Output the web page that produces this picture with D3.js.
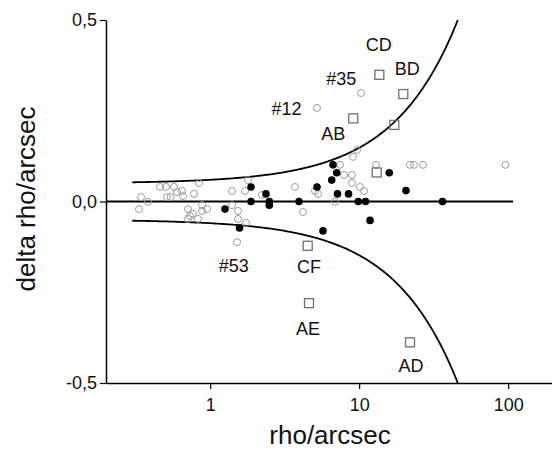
<!DOCTYPE html>
<html>
<head>
<meta charset="utf-8">
<script src="https://cdn.jsdelivr.net/npm/d3@7"></script>
<style>
  html, body { margin: 0; padding: 0; background: #fff; }
  svg { display: block; font-family: "Liberation Sans", Arial, sans-serif; }
</style>
</head>
<body>
<svg id="chart" width="552" height="456"></svg>
<script>
// ---- data (rho in arcsec, delta rho in arcsec) ----
const openRho   = [0.333,0.344,0.383,0.461,0.505,0.572,0.513,0.542,0.599,0.647,0.657,0.779,0.842,0.710,0.733,0.767,0.710,0.829,0.882,0.882,0.953,1.402,1.402,1.538,1.538,1.515,1.740,1.714,1.795,2.228,3.711,4.200,5.054,5.296,6.887,7.440,7.912,8.954,8.954,9.095,9.673,10.13,10.78,12.98,21.94,23.34,26.83,96.0,5.214,10.29];
const openDelta = [-0.021,0.012,-0.001,0.040,0.040,0.040,0.012,0.012,0.026,0.029,0.015,0.021,0.051,-0.021,-0.040,-0.034,-0.048,-0.048,-0.010,-0.026,-0.021,0.029,-0.010,-0.026,-0.048,-0.112,-0.059,0.029,0.059,0.018,0.040,-0.029,0.029,0.021,-0.001,0.101,0.073,0.073,0.051,0.123,0.142,0.040,0.029,0.101,0.101,0.101,0.101,0.101,0.258,0.299];

const filledRho   = [1.258,1.574,1.880,1.880,2.370,2.495,2.495,3.948,5.214,5.720,6.677,7.069,6.544,7.157,8.484,9.869,11.03,11.83,15.93,20.62,36.26];
const filledDelta = [-0.021,-0.073,0.040,0.000,0.021,0.000,-0.010,0.000,0.040,-0.081,0.101,0.079,0.059,0.021,0.021,0.000,0.000,-0.052,0.079,0.030,0.000];

const squareRho   = [13.66,19.78,9.137,17.22,13.12,4.516,4.608,21.94];
const squareDelta = [0.349,0.296,0.229,0.211,0.080,-0.122,-0.280,-0.388];

const labelText  = ["CD","BD","#35","#12","AB","#53","CF","AE","AD"];
const labelRho   = [13.55,21.04,7.59,3.254,6.71,1.439,4.608,4.537,22.29];
const labelDelta = [0.4325,0.3664,0.3388,0.2562,0.1873,-0.1763,-0.1804,-0.3499,-0.4532];

// zero reference line extent
const zeroLineRho = [0.2, 108];
// envelope: |delta| = envelopeOffset + envelopeSlope * rho
const envelopeOffset = 0.05;
const envelopeSlope = 0.0098;
const envelopeStartRho = 0.3;

const xMajorTicks = [1, 10, 100];
const xMinorTicks = [0.3,0.4,0.5,0.6,0.7,0.8,0.9,2,3,4,5,6,7,8,9,20,30,40,50,60,70,80,90];
const yMajorTicks = [-0.5, 0, 0.5];
const yTickLabels = ["-0,5", "0,0", "0,5"];
const yMinorTicks = [-0.4,-0.3,-0.2,-0.1,0.1,0.2,0.3,0.4];

// ---- drawing ----
const svg = d3.select("#chart");
const x = d3.scaleLog().domain([0.2, 200]).range([106, 553]);
const y = d3.scaleLinear().domain([-0.5, 0.5]).range([383, 20]);

// axes
const gx = svg.append("g").attr("transform", `translate(0,${y(-0.5)})`);
gx.call(d3.axisBottom(x).tickValues(xMinorTicks).tickSize(4).tickSizeOuter(0).tickFormat(""));
gx.call(d3.axisBottom(x).tickValues(xMajorTicks).tickSize(6).tickSizeOuter(0).tickPadding(9)
  .tickFormat(d3.format("d")));
gx.selectAll("path.domain").attr("stroke", "#000").attr("stroke-width", 1.5);
gx.selectAll(".tick line").attr("stroke", "#000").attr("stroke-width", 1.2);
gx.selectAll(".tick text").attr("font-size", 18).attr("fill", "#111")
  .attr("font-family", "Liberation Sans, Arial, sans-serif");

const gy = svg.append("g").attr("transform", `translate(${x(0.2)},0)`);
gy.call(d3.axisLeft(y).tickValues(yMinorTicks).tickSize(4).tickSizeOuter(0).tickFormat(""));
gy.call(d3.axisLeft(y).tickValues(yMajorTicks).tickSize(6).tickSizeOuter(0).tickPadding(3)
  .tickFormat((d, i) => yTickLabels[yMajorTicks.indexOf(d)]));
gy.selectAll("path.domain").attr("stroke", "#000").attr("stroke-width", 1.5);
gy.selectAll(".tick line").attr("stroke", "#000").attr("stroke-width", 1.2);
gy.selectAll(".tick text").attr("font-size", 18).attr("fill", "#111")
  .attr("font-family", "Liberation Sans, Arial, sans-serif");

// zero line
svg.append("line")
  .attr("x1", x(zeroLineRho[0])).attr("x2", x(zeroLineRho[1]))
  .attr("y1", y(0)).attr("y2", y(0))
  .attr("stroke", "#000").attr("stroke-width", 2);

// envelope curves
const endRho = (0.5 - envelopeOffset) / envelopeSlope;
const envRho = d3.range(0, 201).map(i =>
  Math.pow(10, Math.log10(envelopeStartRho) + (Math.log10(endRho) - Math.log10(envelopeStartRho)) * i / 200));
const line = d3.line().x(d => x(d[0])).y(d => y(d[1]));
[1, -1].forEach(sign => {
  svg.append("path")
    .datum(envRho.map(r => [r, sign * (envelopeOffset + envelopeSlope * r)]))
    .attr("d", line)
    .attr("fill", "none").attr("stroke", "#000").attr("stroke-width", 1.8);
});

// open circles
svg.append("g").selectAll("circle")
  .data(openRho.map((r, i) => [r, openDelta[i]]))
  .join("circle")
  .attr("cx", d => x(d[0])).attr("cy", d => y(d[1])).attr("r", 3.5)
  .attr("fill", "none").attr("stroke", "#9c9c9c").attr("stroke-width", 1);

// filled circles
svg.append("g").selectAll("circle")
  .data(filledRho.map((r, i) => [r, filledDelta[i]]))
  .join("circle")
  .attr("cx", d => x(d[0])).attr("cy", d => y(d[1])).attr("r", 3.8)
  .attr("fill", "#000");

// squares
const sq = 9;
svg.append("g").selectAll("rect")
  .data(squareRho.map((r, i) => [r, squareDelta[i]]))
  .join("rect")
  .attr("x", d => x(d[0]) - sq / 2).attr("y", d => y(d[1]) - sq / 2)
  .attr("width", sq).attr("height", sq)
  .attr("fill", "none").attr("stroke", "#6f6f6f").attr("stroke-width", 1.3);

// labels
svg.append("g").selectAll("text")
  .data(labelText.map((t, i) => [t, labelRho[i], labelDelta[i]]))
  .join("text")
  .attr("x", d => x(d[1])).attr("y", d => y(d[2])).attr("dy", "0.36em")
  .attr("text-anchor", "middle").attr("font-size", 18).attr("fill", "#111")
  .text(d => d[0]);

// axis titles
svg.append("text")
  .attr("x", 330).attr("y", 444)
  .attr("text-anchor", "middle").attr("font-size", 26).attr("fill", "#111")
  .text("rho/arcsec");
svg.append("text")
  .attr("transform", "translate(35,199) rotate(-90)")
  .attr("text-anchor", "middle").attr("font-size", 26).attr("fill", "#111")
  .text("delta rho/arcsec");
</script>
</body>
</html>
